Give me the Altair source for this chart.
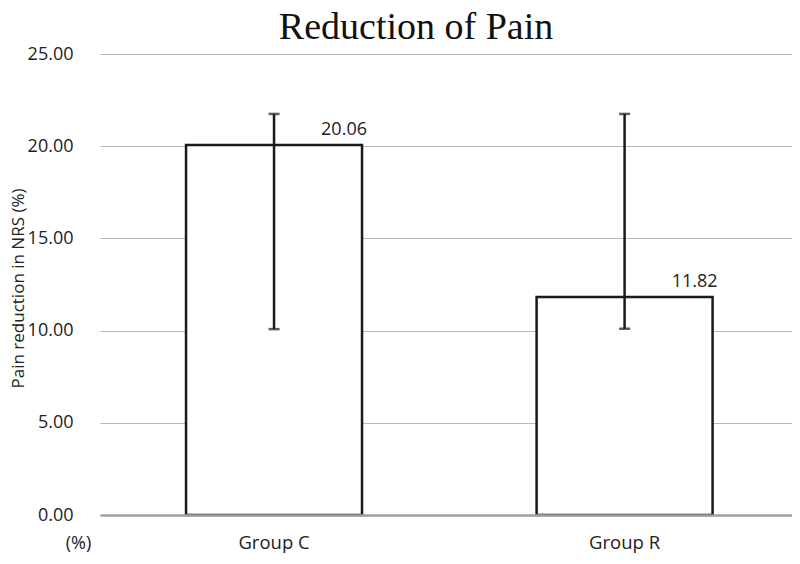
import altair as alt
import pandas as pd

groups = ["Group C", "Group R"]
means = [20.06, 11.82]
err_low = [10.08, 10.10]
err_high = [21.75, 21.75]
y_ticks = [0, 5, 10, 15, 20, 25]

df = pd.DataFrame({"group": groups, "mean": means, "lo": err_low, "hi": err_high})
df["label"] = [f"{v:.2f}" for v in means]

SANS = "Open Sans"
TXT = "#222222"

x_scale = alt.Scale(paddingInner=0.498, paddingOuter=0.236, align=0.52)

x_enc = alt.X(
    "group:N",
    sort=groups,
    scale=x_scale,
    axis=alt.Axis(
        title="(%)", titleX=-22, titleY=28, titleFont=SANS, titleFontSize=18,
        titleFontWeight="normal", titleColor=TXT, titleBaseline="middle",
        labelFont=SANS, labelFontSize=18.5, labelColor=TXT, labelPadding=18,
        labelAngle=0, ticks=False, domainColor="#a0a0a0", domainWidth=2.5,
        zindex=1,
    ),
)

y_scale = alt.Scale(domain=[0, 25], nice=False)

bars = alt.Chart(df).mark_bar(fill="white", stroke="#1a1a1a", strokeWidth=2.5).encode(
    x=x_enc,
    y=alt.Y(
        "mean:Q", scale=y_scale,
        axis=alt.Axis(
            values=y_ticks, format=".2f", title="Pain reduction in NRS (%)",
            titleFont=SANS, titleFontSize=17, titleFontWeight="normal", titleColor=TXT,
            titleX=-82, titleY=234, titleAngle=-90, titleBaseline="middle",
            titleAlign="center",
            labelFont=SANS, labelFontSize=18, labelColor=TXT, labelPadding=27,
            ticks=False, domain=False, gridColor="#b8b8b8", gridWidth=1.2,
        ),
    ),
)

rule = alt.Chart(df).mark_rule(color="#1a1a1a", strokeWidth=2.5).encode(
    x=alt.X("group:N", sort=groups),
    y=alt.Y("lo:Q", scale=y_scale),
    y2="hi:Q",
)

caps_lo = alt.Chart(df).mark_tick(color="#1a1a1a", thickness=2.5, size=11).encode(
    x=alt.X("group:N", sort=groups),
    y=alt.Y("lo:Q", scale=y_scale),
)
caps_hi = alt.Chart(df).mark_tick(color="#1a1a1a", thickness=2.5, size=11).encode(
    x=alt.X("group:N", sort=groups),
    y=alt.Y("hi:Q", scale=y_scale),
)

labels = alt.Chart(df).mark_text(
    font=SANS, fontSize=18, color=TXT, dx=70, dy=-6, baseline="bottom", align="center"
).encode(
    x=alt.X("group:N", sort=groups),
    y=alt.Y("mean:Q", scale=y_scale),
    text="label:N",
)

chart = alt.layer(bars, rule, caps_lo, caps_hi, labels).properties(
    width=692,
    height=461,
    autosize=alt.AutoSizeParams(type="none"),
    padding={"left": 92, "top": 46, "right": 0, "bottom": 41},
    title=alt.TitleParams(
        "Reduction of Pain", font="Liberation Serif", fontSize=38, fontWeight="normal",
        color="#111111", anchor="middle", dx=-30, offset=-2,
    ),
).configure_view(stroke=None)

chart.save("out.html", embed_options={"renderer": "svg", "actions": False})
